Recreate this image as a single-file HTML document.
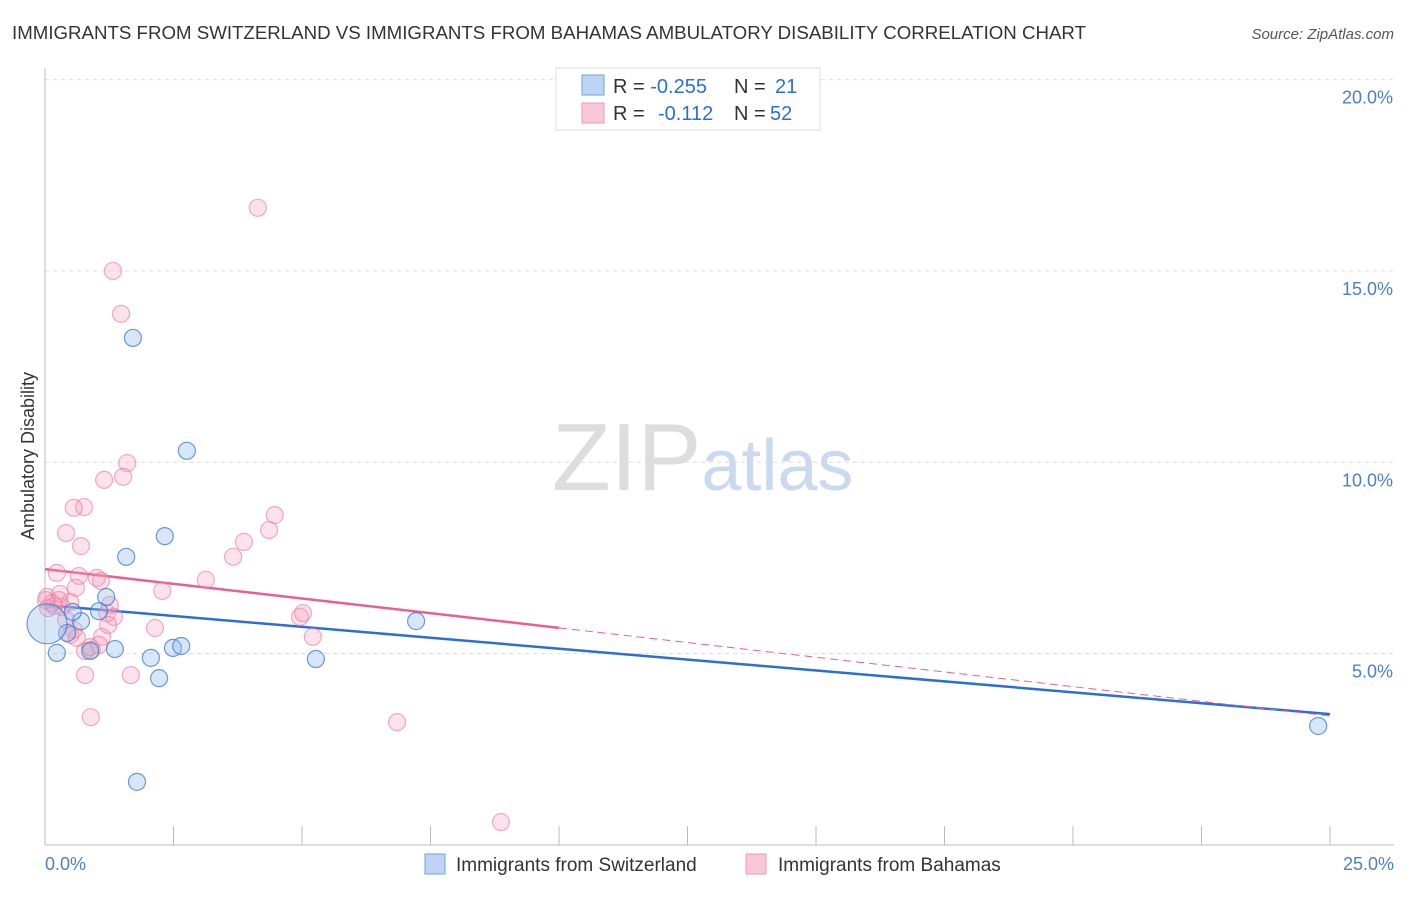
<!DOCTYPE html>
<html><head><meta charset="utf-8"><style>
body{margin:0;background:#fff;font-family:"Liberation Sans",sans-serif;}
svg text{font-family:"Liberation Sans",sans-serif;}
</style></head><body>
<svg id="chart" width="1406" height="892" xmlns="http://www.w3.org/2000/svg">
<text x="12" y="39" font-size="18" fill="#333" textLength="1074" lengthAdjust="spacingAndGlyphs">IMMIGRANTS FROM SWITZERLAND VS IMMIGRANTS FROM BAHAMAS AMBULATORY DISABILITY CORRELATION CHART</text>
<text x="1394" y="39" font-size="15" fill="#555" text-anchor="end" font-style="italic">Source: ZipAtlas.com</text>
<text x="552" y="490" font-size="96" fill="#ddd" font-family="Liberation Serif">ZIP<tspan fill="#c9daf0" font-family="Liberation Sans" font-size="72">atlas</tspan></text>
<text transform="translate(34,456) rotate(-90)" font-size="18" fill="#333" text-anchor="middle">Ambulatory Disability</text>
<g id="grid"></g><g id="axes"></g><g id="trends"></g><g id="pts"></g>
<g>
<rect x="556" y="68" width="264" height="62" fill="#fff" stroke="#ddd"/>
<rect x="582" y="75" width="22" height="20" fill="#bcd5f5" stroke="#6fa0e0"/>
<rect x="582" y="103" width="22" height="20" fill="#f9c8d6" stroke="#ef9ab5"/>
<text x="613" y="93" font-size="20" fill="#333">R = <tspan fill="#2a6fd6">-0.255</tspan><tspan x="734">N = </tspan><tspan fill="#2a6fd6" x="775">21</tspan></text>
<text x="613" y="120" font-size="20" fill="#333">R = <tspan fill="#2a6fd6" x="658">-0.112</tspan><tspan x="734">N = </tspan><tspan fill="#2a6fd6" x="770">52</tspan></text>
</g>
<g>
<rect x="425" y="854" width="20" height="20" fill="#bcd5f5" stroke="#6fa0e0"/>
<text x="456" y="871" font-size="19" fill="#333">Immigrants from Switzerland</text>
<rect x="746" y="854" width="20" height="20" fill="#f9c8d6" stroke="#ef9ab5"/>
<text x="778" y="871" font-size="19" fill="#333">Immigrants from Bahamas</text>
</g>
</svg>
<script>
const blueX=[1.71,2.76,2.33,1.58,1.19,1.05,0.70,0.43,0.04,0.23,0.88,1.36,2.06,2.22,2.49,2.65,5.27,7.22,1.79,24.77,0.54];
const blueY=[13.25,10.30,8.07,7.53,6.48,6.11,5.85,5.54,5.78,5.02,5.07,5.12,4.89,4.36,5.15,5.20,4.86,5.85,1.65,3.11,6.09];
const pinkX=[4.14,1.32,1.48,1.60,1.52,1.15,0.76,0.56,0.41,0.70,3.66,3.87,4.36,4.47,3.13,2.28,0.23,0.66,1.01,1.09,0.04,0.29,0.60,0.14,0.33,0.49,0.06,0.18,1.21,1.34,1.26,2.14,4.96,5.02,5.21,1.11,0.56,0.49,0.62,0.91,0.78,1.05,0.78,1.67,0.89,6.85,8.87,1.23,0.27,0.02,0.41,0.88];
const pinkY=[16.65,15.00,13.88,9.98,9.62,9.54,8.83,8.81,8.15,7.81,7.53,7.92,8.23,8.62,6.93,6.64,7.11,7.03,6.98,6.90,6.48,6.56,6.72,6.32,6.22,6.35,6.19,6.25,6.06,5.96,6.27,5.67,5.96,6.06,5.44,5.44,5.62,5.49,5.41,5.10,5.07,5.23,4.44,4.44,3.34,3.21,0.60,5.75,6.40,6.40,5.88,5.17];
const blueTrend=[6.27,3.42];
const pinkTrend=[7.21,3.37];
const yTicks=[5,10,15,20];
const xTickLabels=["0.0%","25.0%"];
const NS="http://www.w3.org/2000/svg";
const sx=v=>45+v/25*1285;
const sy=v=>845-v*38.27;
function mk(parent,tag,attrs){const e=document.createElementNS(NS,tag);for(const k in attrs)e.setAttribute(k,attrs[k]);document.getElementById(parent).appendChild(e);return e;}
yTicks.forEach(t=>{
 const l=mk('grid','line',{x1:45,x2:1394,y1:sy(t),y2:sy(t),stroke:'#ddd','stroke-dasharray':'4,4'});
 
 
 const tx=mk('grid','text',{x:1393,y:sy(t)+24,'font-size':18,fill:'#4a7fd0','text-anchor':'end'});
 tx.textContent=t.toFixed(1)+'%';
 
 
});
let a=mk('axes','line',{x1:45,x2:45,y1:68,y2:845,stroke:'#bbb'});


a=mk('axes','line',{x1:45,x2:1394,y1:845,y2:845,stroke:'#bbb'});


for(let i=0;i<=10;i++){const tk=mk('axes','line',{x1:sx(i*2.5),x2:sx(i*2.5),y1:826,y2:845,stroke:'#bbb'});
 
 }
let xl=mk('axes','text',{x:45,y:870,'font-size':18,fill:'#4a7fd0'});xl.textContent=xTickLabels[0];


xl=mk('axes','text',{x:1394,y:870,'font-size':18,fill:'#4a7fd0','text-anchor':'end'});xl.textContent=xTickLabels[1];


function pts(xs,ys,fill,stroke,name){xs.forEach((x,i)=>{
 const r=(name==='blue-point'&&i===8)?20:8.5;
 const c=mk('pts','circle',{cx:sx(x),cy:sy(ys[i]),r:r,fill:fill,stroke:stroke,'stroke-width':1.2});
 
 });}
pts(pinkX,pinkY,'rgba(244,160,185,0.3)','rgba(232,120,155,0.6)','pink-point');
pts(blueX,blueY,'rgba(142,186,235,0.35)','rgba(60,120,210,0.75)','blue-point');
let t=mk('trends','line',{x1:sx(0),y1:sy(blueTrend[0]),x2:sx(25),y2:sy(blueTrend[1]),stroke:'#2a6fd6','stroke-width':2.5});


const pk=v=>pinkTrend[0]+(pinkTrend[1]-pinkTrend[0])*v/25;
t=mk('trends','line',{x1:sx(0),y1:sy(pk(0)),x2:sx(10),y2:sy(pk(10)),stroke:'#e8608f','stroke-width':2.5});


t=mk('trends','line',{x1:sx(10),y1:sy(pk(10)),x2:sx(25),y2:sy(pk(25)),stroke:'#e8608f','stroke-width':1,'stroke-dasharray':'8,5'});


</script>
</body></html>
